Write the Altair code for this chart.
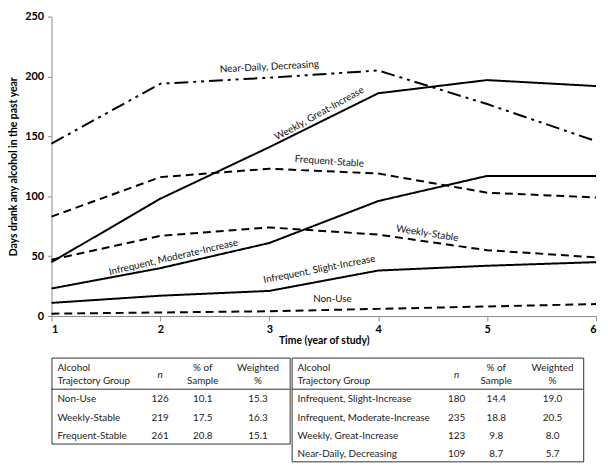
import altair as alt
import pandas as pd

# ---------------- data ----------------
years = [1, 2, 3, 4, 5, 6]
groups = ["Near-Daily, Decreasing", "Weekly, Great-Increase", "Frequent-Stable",
          "Infrequent, Moderate-Increase", "Weekly-Stable",
          "Infrequent, Slight-Increase", "Non-Use"]
near_daily = [144, 194, 199, 205, 177, 146]
weekly_great = [45, 98, 141, 186, 197, 192]
frequent_stable = [83, 116, 123, 119, 103, 99]
infreq_moderate = [23, 40, 61, 96, 117, 117]
weekly_stable = [47, 67, 74, 68, 55, 49]
infreq_slight = [11, 17, 21, 38, 42, 45]
non_use = [2, 3, 4, 6, 8, 10]
series = [near_daily, weekly_great, frequent_stable, infreq_moderate,
          weekly_stable, infreq_slight, non_use]

dash_patterns = [[14, 5, 3, 5, 3, 5], [1, 0], [8, 5], [1, 0], [8, 5], [1, 0], [8, 5]]

label_text = groups
label_year = [3.0, 3.46, 3.55, 2.12, 4.45, 3.46, 3.58]
label_days = [208, 169, 129, 49, 69, 39, 14]
label_angle = [357, 331, 4, 347, 9, 349, 0]

left_groups = ["Non-Use", "Weekly-Stable", "Frequent-Stable"]
left_n = [126, 219, 261]
left_pct = [10.1, 17.5, 20.8]
left_w = [15.3, 16.3, 15.1]
right_groups = ["Infrequent, Slight-Increase", "Infrequent, Moderate-Increase",
                "Weekly, Great-Increase", "Near-Daily, Decreasing"]
right_n = [180, 235, 123, 109]
right_pct = [14.4, 18.8, 9.8, 8.7]
right_w = [19.0, 20.5, 8.0, 5.7]

FONT = "Lato"
AX = dict(labelFont=FONT, labelFontSize=11, labelFontWeight="bold", labelColor="black",
          titleFont=FONT, titleFontSize=10.5, titleFontWeight="bold", titleColor="black",
          domainColor="#8c8c8c", tickColor="#8c8c8c", grid=False)

# ---------------- line chart ----------------
rows = []
for g, vals in zip(groups, series):
    for yr, v in zip(years, vals):
        rows.append({"group": g, "year": yr, "days": v})
df = pd.DataFrame(rows)

xscale = alt.Scale(domain=[1, 6], nice=False, zero=False)
yscale = alt.Scale(domain=[0, 250], nice=False)

lines = alt.Chart(df).mark_line(color="black", strokeWidth=2).encode(
    x=alt.X("year:Q", scale=xscale,
            axis=alt.Axis(values=years, format="d", title="Time (year of study)",
                          tickSize=5, labelPadding=3, titlePadding=1, **AX)),
    y=alt.Y("days:Q", scale=yscale,
            axis=alt.Axis(values=[0, 50, 100, 150, 200, 250],
                          title="Days drank any alcohol in the past year",
                          tickSize=4, labelPadding=4, titlePadding=6, **AX)),
    strokeDash=alt.StrokeDash("group:N", scale=alt.Scale(domain=groups, range=dash_patterns),
                              legend=None),
    detail="group:N",
)

ldf = pd.DataFrame({"text": label_text, "year": label_year, "days": label_days,
                    "angle": label_angle})
labels = alt.Chart(ldf).mark_text(font=FONT, fontSize=10, color="#111", baseline="middle",
                                  align="center").encode(
    x=alt.X("year:Q", scale=xscale),
    y=alt.Y("days:Q", scale=yscale),
    text="text:N",
    angle=alt.Angle("angle:Q", scale=None),
)

top = alt.layer(lines, labels).properties(width=551, height=303)

# ---------------- tables ----------------
ROWSTEP = 18.7


def make_table(gl, nl, pl, wl, width, height, cols):
    d0 = -42 / ROWSTEP
    d1 = d0 + height / ROWSTEP
    tdf = pd.DataFrame({"group": gl, "n": nl, "pct": pl, "w": wl,
                        "row": list(range(len(gl)))})
    ys = alt.Y("row:Q", scale=alt.Scale(domain=[d0, d1], reverse=True, nice=False, zero=False),
               axis=None)
    base = alt.Chart(tdf)
    txt = dict(font=FONT, fontSize=10, color="#222", baseline="middle")
    layers = [
        base.mark_text(align="left", **txt).encode(x=alt.value(cols[0]), y=ys, text="group:N"),
        base.mark_text(align="center", **txt).encode(x=alt.value(cols[1]), y=ys, text="n:Q"),
        base.mark_text(align="center", **txt).encode(x=alt.value(cols[2]), y=ys,
                                                     text=alt.Text("pct:Q", format=".1f")),
        base.mark_text(align="center", **txt).encode(x=alt.value(cols[3]), y=ys,
                                                     text=alt.Text("w:Q", format=".1f")),
    ]
    headers = [("Alcohol", cols[0], 11, "left", "normal"),
               ("Trajectory Group", cols[0], 24, "left", "normal"),
               ("n", cols[1], 18, "center", "italic"),
               ("% of", cols[2], 11, "center", "normal"),
               ("Sample", cols[2], 24, "center", "normal"),
               ("Weighted", cols[3], 11, "center", "normal"),
               ("%", cols[3], 24, "center", "normal")]
    for t, hx, hy, al, st in headers:
        layers.append(
            alt.Chart(pd.DataFrame({"t": [t]})).mark_text(align=al, fontStyle=st, **txt).encode(
                x=alt.value(hx), y=alt.value(hy), text="t:N"))
    layers.append(
        alt.Chart(pd.DataFrame({"a": [0]})).mark_rule(color="#333", strokeWidth=1).encode(
            x=alt.value(0), x2=alt.value(width), y=alt.value(32)))
    return alt.layer(*layers).properties(
        width=width, height=height,
        view=alt.ViewBackground(stroke="#333", strokeWidth=1))


left_tbl = make_table(left_groups, left_n, left_pct, left_w, 241, 87, [6, 110, 153, 209])
right_tbl = make_table(right_groups, right_n, right_pct, right_w, 295, 105, [6, 167, 207, 264])

chart = alt.vconcat(top, alt.hconcat(left_tbl, right_tbl, spacing=0), spacing=10).properties(
    padding={"left": 0, "top": 0, "right": 0, "bottom": 0},
    background="white",
).configure_view(stroke=None)

chart.save("out.html", embed_options={"renderer": "svg", "actions": False})
